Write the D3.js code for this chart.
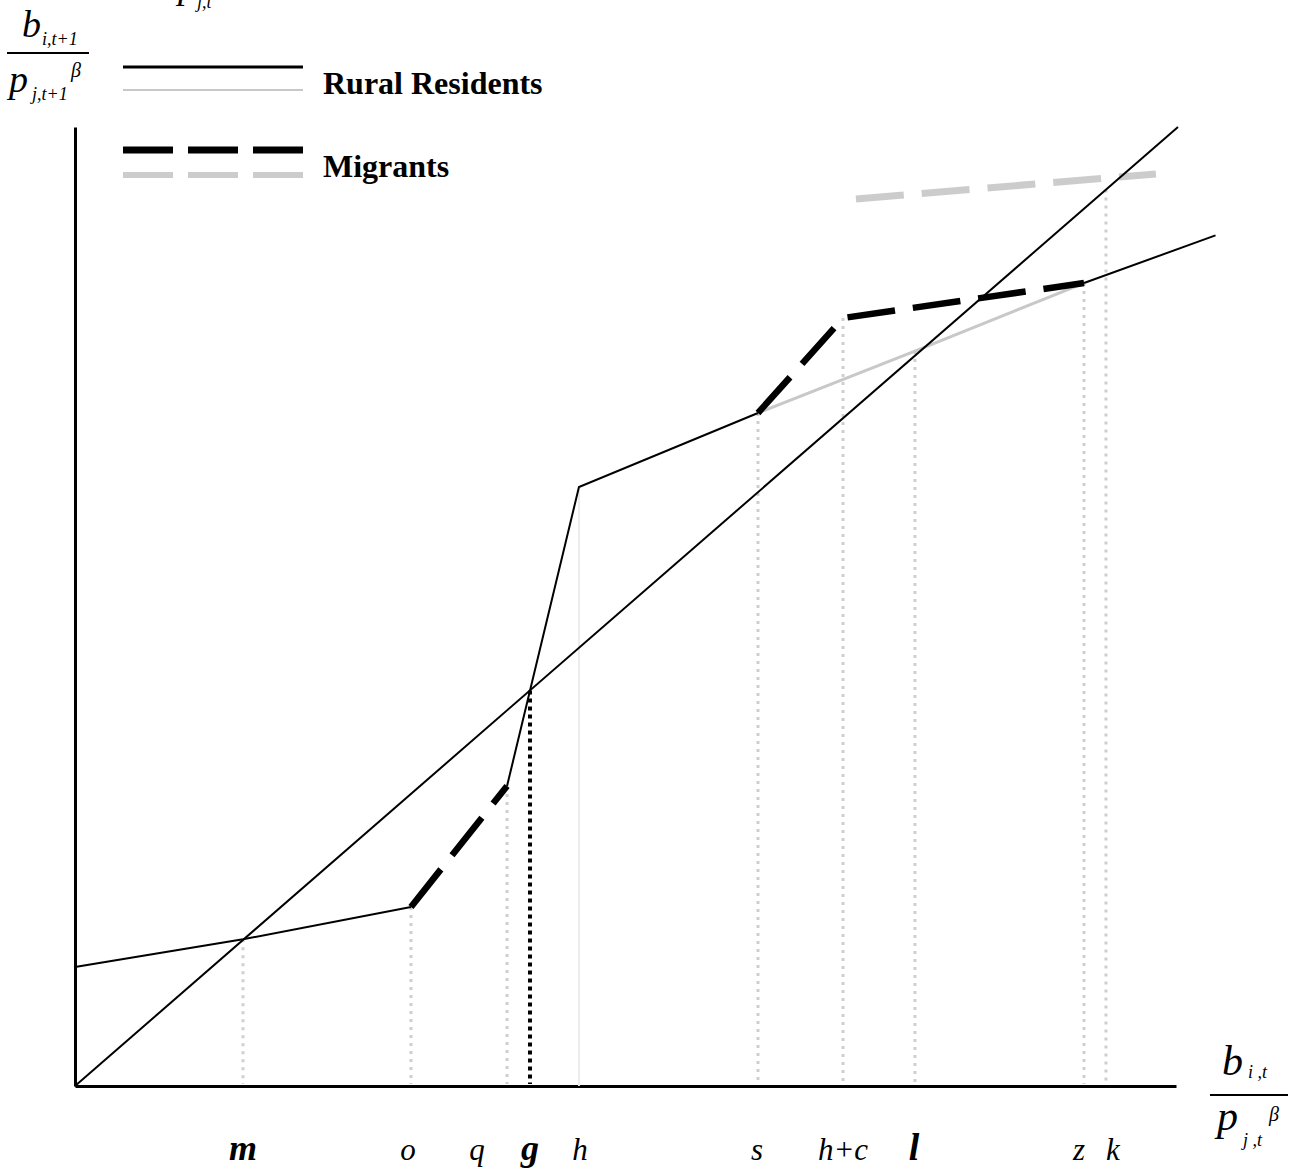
<!DOCTYPE html>
<html><head><meta charset="utf-8">
<script src="https://cdn.jsdelivr.net/npm/d3@7"></script>
<style>body{margin:0;background:#fff}svg{display:block}text{font-family:"Liberation Serif","Times New Roman",serif}</style>
</head><body>
<svg id="c" width="1296" height="1168"></svg>
<script>
// ---- data (units where the 45-degree line is y = x) ----
const pointNames = ["start","m","o","q","g","h","s","h+c","l","z","k","end"];
const pointX = [0, 15.23, 30.46, 39.17, 41.25, 45.69, 61.92, 69.63, 76.15, 91.48, 93.47, 103.4];
const pointY = [12.41, 15.3, 18.67, 31.28, 41.25, 62.46, 70.18, 80.08, 76.64, 83.73, 93.47, 88.7];
const ruralSolidSegments = [["start","m","o"],["q","h","s"],["z","end"]];
const migrantBlackSegments = [["o","q"],["s","h+c","z"]];
const ruralGraySegment = ["s","l","z"];
const migrantGrayX = [70.8, 98.0];
const migrantGrayY = [92.5, 95.1];
const diagonalX = [0, 100];
const dottedGray = ["m","o","q","s","h+c","l","z","k"];
const tickLabels = ["m","o","q","g","h","s","h+c","l","z","k"];
const tickLabelX = [15.23, 30.19, 36.45, 41.25, 45.78, 61.83, 69.63, 76.06, 91.03, 94.1];
const tickBold = [true,false,false,true,false,false,false,true,false,false];
const legendItems = ["Rural Residents","Migrants"];

const svg = d3.select("#c");
const x = d3.scaleLinear().domain([0,100]).range([75,1178]);
const y = d3.scaleLinear().domain([0,100]).range([1086,127]);
const P = {}; pointNames.forEach((n,i)=>P[n]=[pointX[i],pointY[i]]);
const line = d3.line().x(d=>x(d[0])).y(d=>y(d[1]));

// axes
const xAxis = d3.axisBottom(d3.scaleLinear().domain([0,99.8]).range([75,1176])).tickValues([]).tickSizeOuter(0);
const yAxis = d3.axisLeft(y).tickValues([]).tickSizeOuter(0);
svg.append("g").attr("transform",`translate(0,${y(0)})`).call(xAxis);
svg.append("g").attr("transform",`translate(${x(0)},0)`).call(yAxis);
svg.selectAll(".domain").attr("stroke","#000").attr("stroke-width",3);

// dotted gray verticals
svg.append("g").selectAll("line").data(dottedGray).join("line")
  .attr("x1",d=>x(P[d][0])).attr("x2",d=>x(P[d][0]))
  .attr("y1",d=>y(P[d][1])).attr("y2",y(0)-2)
  .attr("stroke","#cfcfcf").attr("stroke-width",3).attr("stroke-dasharray","3,5");
// faint h line
svg.append("line").attr("x1",x(P.h[0])).attr("x2",x(P.h[0])).attr("y1",y(P.h[1])).attr("y2",y(0))
  .attr("stroke","#ececec").attr("stroke-width",2);
// black dotted g line
svg.append("line").attr("x1",x(P.g[0])).attr("x2",x(P.g[0])).attr("y1",y(P.g[1])).attr("y2",y(0)-2)
  .attr("stroke","#000").attr("stroke-width",4).attr("stroke-dasharray","4,4");

// gray rural segment
svg.append("path").attr("d",line(ruralGraySegment.map(n=>P[n]))).attr("fill","none")
  .attr("stroke","#c8c8c8").attr("stroke-width",3);
// gray migrant dashed
svg.append("path").attr("d",line(migrantGrayX.map((v,i)=>[v,migrantGrayY[i]]))).attr("fill","none")
  .attr("stroke","#cccccc").attr("stroke-width",7).attr("stroke-dasharray","48,18");
// diagonal
svg.append("path").attr("d",line(diagonalX.map(v=>[v,v]))).attr("fill","none")
  .attr("stroke","#000").attr("stroke-width",2);
// rural solid
ruralSolidSegments.forEach(s=>svg.append("path").attr("d",line(s.map(n=>P[n]))).attr("fill","none")
  .attr("stroke","#000").attr("stroke-width",2));
// migrants black dashed
migrantBlackSegments.forEach(s=>svg.append("path").attr("d",line(s.map(n=>P[n]))).attr("fill","none")
  .attr("stroke","#000").attr("stroke-width",6.5).attr("stroke-dasharray","48,18"));

// tick labels
svg.append("g").selectAll("text").data(tickLabels).join("text")
  .attr("x",(d,i)=>x(tickLabelX[i])).attr("y",1160).attr("text-anchor","middle")
  .attr("font-size",(d,i)=>d==="l"?38:(tickBold[i]?36:31))
  .attr("font-style","italic").attr("font-weight",(d,i)=>tickBold[i]?"bold":"normal")
  .text(d=>d);

// legend
const lg = svg.append("g");
lg.append("line").attr("x1",123).attr("x2",303).attr("y1",67).attr("y2",67).attr("stroke","#000").attr("stroke-width",3);
lg.append("line").attr("x1",123).attr("x2",303).attr("y1",90).attr("y2",90).attr("stroke","#c8c8c8").attr("stroke-width",2);
lg.append("line").attr("x1",123).attr("x2",303).attr("y1",150).attr("y2",150).attr("stroke","#000").attr("stroke-width",7).attr("stroke-dasharray","50,15");
lg.append("line").attr("x1",123).attr("x2",303).attr("y1",175).attr("y2",175).attr("stroke","#cccccc").attr("stroke-width",6).attr("stroke-dasharray","50,15");
lg.selectAll("text").data(legendItems).join("text")
  .attr("x",323).attr("y",(d,i)=>i===0?94:177).attr("font-size",32).attr("font-weight","bold").text(d=>d);

// axis label fractions (explicit glyph placement)
function frac(o){
  const g = svg.append("g").attr("font-style","italic");
  g.append("line").attr("x1",o.barX1).attr("x2",o.barX2).attr("y1",o.barY).attr("y2",o.barY).attr("stroke","#000").attr("stroke-width",2);
  g.append("text").attr("x",o.bx).attr("y",o.by).attr("font-size",o.fs).text("b");
  g.append("text").attr("x",o.nsx).attr("y",o.nsy).attr("font-size",o.ss).text(o.numSub);
  g.append("text").attr("x",o.px).attr("y",o.py).attr("font-size",o.fs).text("p");
  g.append("text").attr("x",o.dsx).attr("y",o.dsy).attr("font-size",o.ss).text(o.denSub);
  g.append("text").attr("x",o.betax).attr("y",o.betay).attr("font-size",o.ss+2).text("β");
}
frac({barX1:7,barX2:89,barY:53,bx:22,by:37,fs:38,nsx:42,nsy:45,ss:18,numSub:"i,t+1",
      px:9,py:92,dsx:32,dsy:100,denSub:"j,t+1",betax:71,betay:77});
frac({barX1:1210,barX2:1288,barY:1095,bx:1222,by:1075,fs:42,nsx:1248,nsy:1078,ss:18,numSub:"i ,t",
      px:1217,py:1130,dsx:1243,dsy:1146,denSub:"j ,t",betax:1269,betay:1121});
// clipped fragment at top
svg.append("text").attr("x",178).attr("y",-2).attr("font-style","italic").attr("font-size",38).text("p");
svg.append("text").attr("x",197).attr("y",8).attr("font-style","italic").attr("font-size",18).text("j,t");
</script>
</body></html>
